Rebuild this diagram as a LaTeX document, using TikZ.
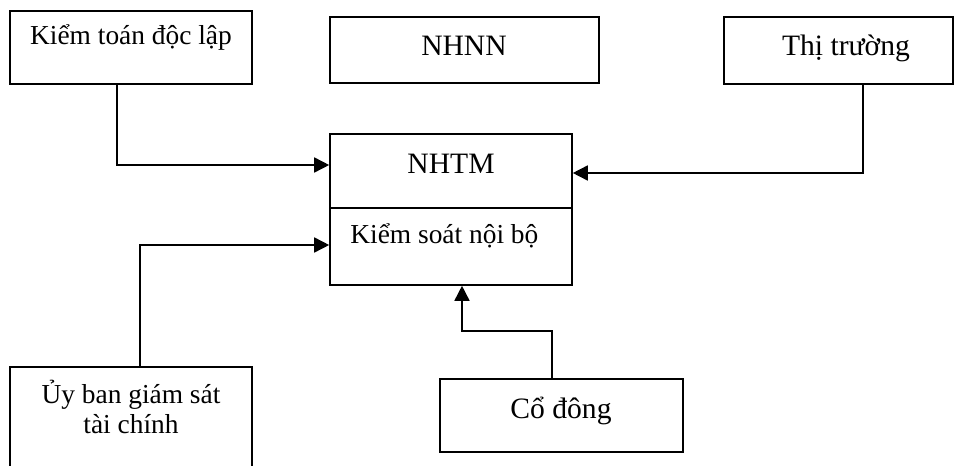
\documentclass[tikz,border=0pt]{standalone}
\usepackage{fontspec}
\setmainfont{Liberation Serif}
\usetikzlibrary{arrows.meta}
\begin{document}
\begin{tikzpicture}[x=0.5pt,y=-0.5pt,
  box/.style={draw,line width=0.8pt,rectangle,inner sep=0pt},
  smalltxt/.style={font=\fontsize{13.7}{15}\selectfont,inner sep=0pt,align=center},
  bigtxt/.style={font=\fontsize{14.8}{16}\selectfont,inner sep=0pt,align=center},
  conn/.style={line width=0.8pt,-{Triangle[length=7.5pt,width=7.5pt]}}]
\clip (0,0) rectangle (954,466);
% boxes
\node[box,minimum width=121pt,minimum height=36.5pt] (kt) at (131,47.5) {};
\node[box,minimum width=134.5pt,minimum height=33pt] (nhnn) at (464.5,50) {};
\node[box,minimum width=114.5pt,minimum height=33.5pt] (tt) at (838.5,50.5) {};
\node[box,minimum width=121pt,minimum height=37pt] (nhtm) at (451,171) {};
\node[box,minimum width=121pt,minimum height=38.5pt] (ksnb) at (451,246.5) {};
\node[box,minimum width=121pt,minimum height=56.5pt] (ub) at (131,423.5) {};
\node[box,minimum width=121.5pt,minimum height=36.5pt] (cd) at (561.5,415.5) {};
% texts
\node[smalltxt,anchor=base] (tkt) at (131,45) {Kiểm toán độc lập};
\node[bigtxt,anchor=base] (tnhnn) at (464,55) {NHNN};
\node[bigtxt,anchor=base] (ttt) at (846,55) {Thị trường};
\node[bigtxt,anchor=base] (tnhtm) at (451,173) {NHTM};
\node[smalltxt,anchor=base west] (tksnb) at (350,243) {Kiểm soát nội bộ};
\node[smalltxt,anchor=base] (tub1) at (131,403) {Ủy ban giám sát};
\node[smalltxt,anchor=base] (tub2) at (131,433) {tài chính};
\node[bigtxt,anchor=base] (tcd) at (561,418) {Cổ đông};
% connectors
\draw[conn] ([xshift=-7pt]kt.south) |- ([yshift=3pt]nhtm.west);
\draw[conn] ([xshift=12.25pt]tt.south) |- ([yshift=-1pt]nhtm.east);
\draw[conn] ([xshift=4.5pt]ub.north) |- ([yshift=0.75pt]ksnb.west);
\draw[conn] ([xshift=-4.75pt]cd.north) -- ++(0,-47) -| ([xshift=5.5pt]ksnb.south);
\end{tikzpicture}
\end{document}
